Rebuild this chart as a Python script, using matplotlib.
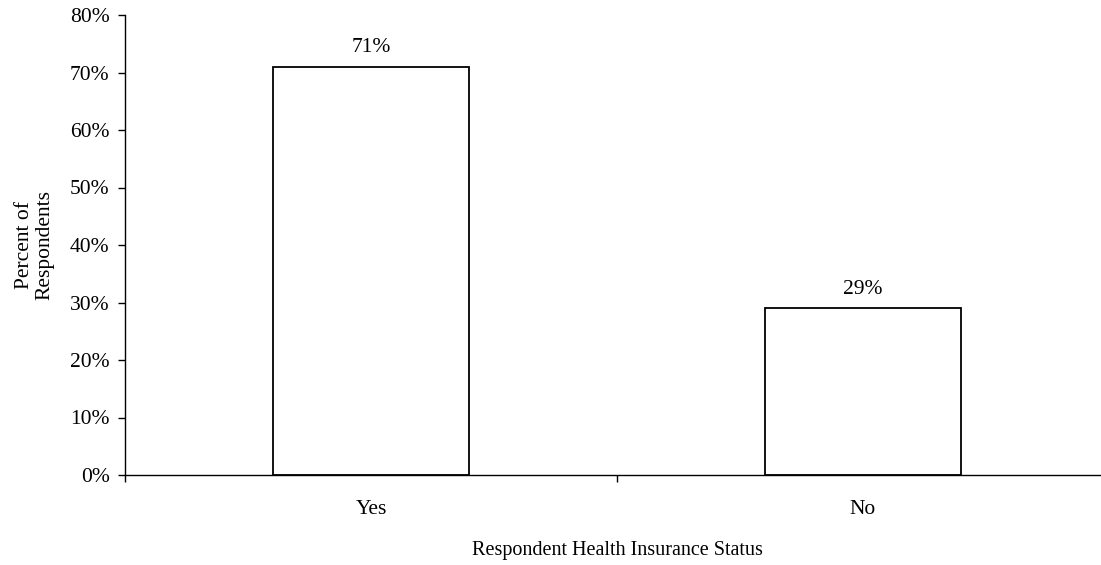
import matplotlib
matplotlib.use("Agg")
import matplotlib.pyplot as plt
import numpy as np
from matplotlib.ticker import PercentFormatter

categories = ["Yes", "No"]
percents = [71, 29]

plt.rcParams['font.family'] = ['Liberation Serif', 'DejaVu Serif']
plt.rcParams['font.size'] = 15.5

fig = plt.figure(figsize=(11.01, 5.65), dpi=100)
# axes run a little past the right edge, like the original
ax = fig.add_axes([125 / 1101, 90 / 565, 984 / 1101, 460 / 565])

x = np.arange(len(categories)) + 0.5
bars = ax.bar(x, percents, width=0.4, color="white", edgecolor="black", linewidth=1.3)

for b, v in zip(bars, percents):
    ax.annotate("{}%".format(v), (b.get_x() + b.get_width() / 2, v),
                xytext=(0, 7), textcoords="offset points", ha="center", va="bottom")

ax.set_xlim(0, 2)
ax.set_ylim(0, 80)
ax.set_yticks(np.arange(0, 81, 10))
ax.yaxis.set_major_formatter(PercentFormatter(decimals=0))

# ticks sit on category boundaries, labels in the middle
ax.set_xticks([0, 1, 2])
ax.set_xticklabels([])
ax.set_xticks(x, minor=True)
ax.set_xticklabels(categories, minor=True)
ax.tick_params(axis="x", which="minor", length=0, pad=18)
ax.tick_params(axis="x", which="major", direction="out", length=5, width=1)
ax.tick_params(axis="y", direction="out", length=5, width=1, pad=6)

for s in ["top", "right"]:
    ax.spines[s].set_visible(False)
ax.spines["left"].set_linewidth(1)
ax.spines["bottom"].set_linewidth(1)

ax.set_xlabel("Respondent Health Insurance Status", fontsize=14.5, labelpad=16)
ax.set_ylabel("Percent of\nRespondents", linespacing=1.1)
ax.yaxis.set_label_coords(-0.072, 0.5)

fig.savefig("out.png", dpi=100)
